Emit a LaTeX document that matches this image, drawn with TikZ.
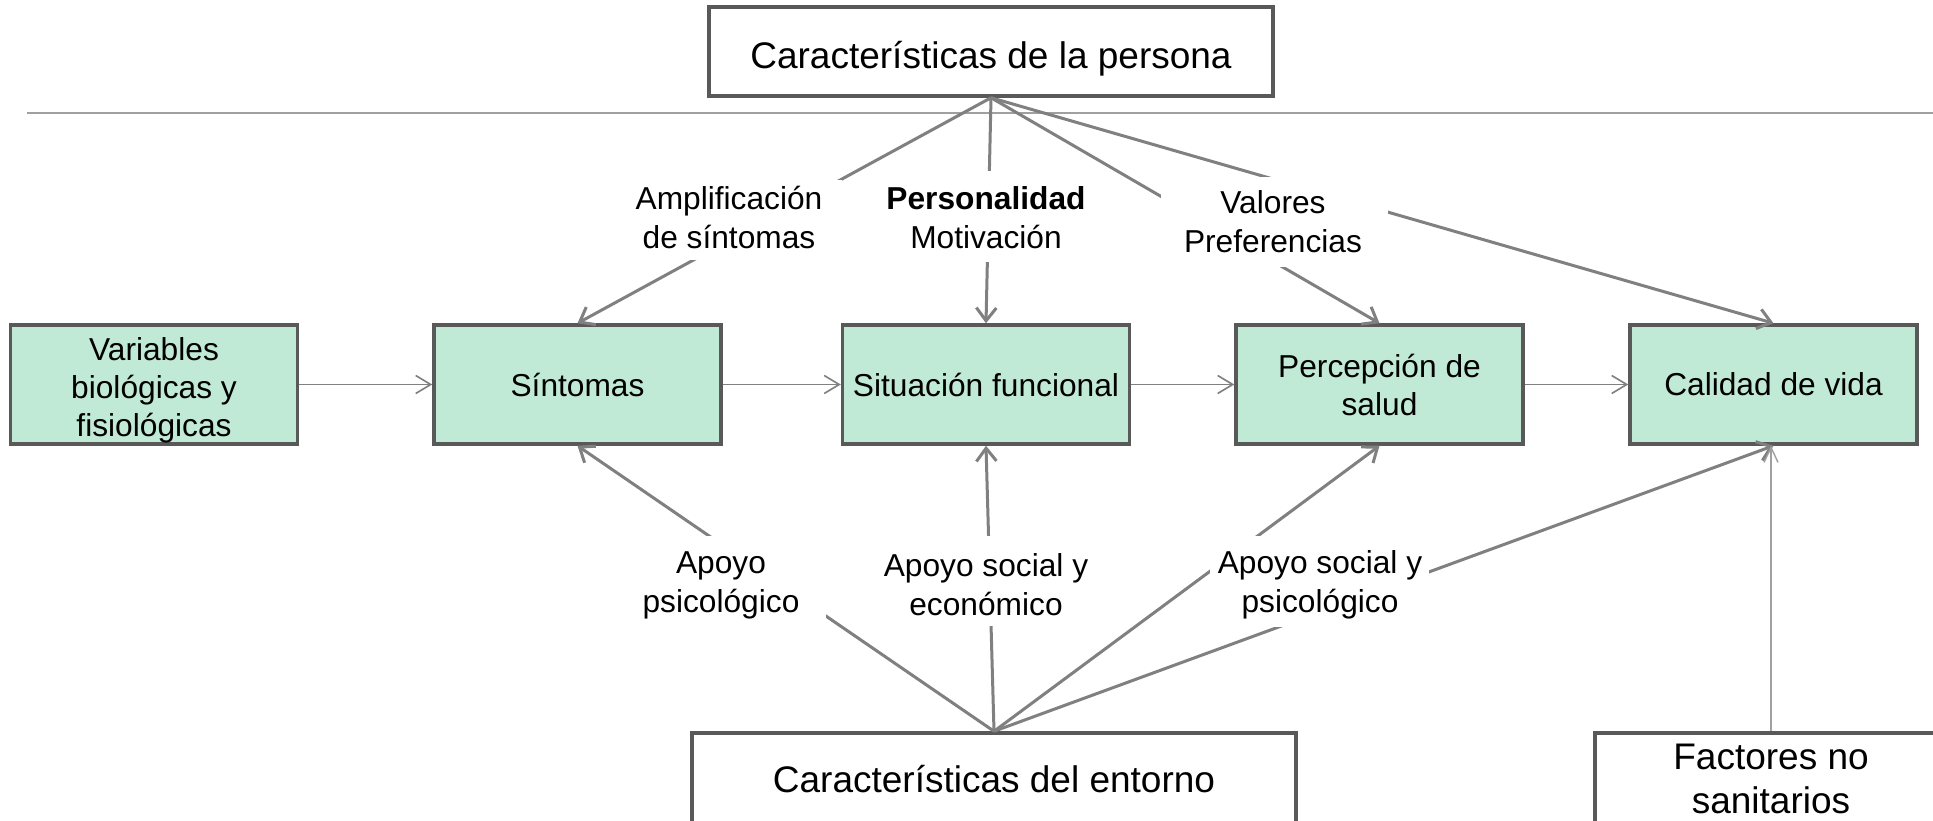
\documentclass[tikz,border=0pt]{standalone}
\usepackage{fontspec}
\setmainfont{Liberation Sans}
\usetikzlibrary{arrows.meta}
\definecolor{boxgreen}{RGB}{192,233,214}
\definecolor{bordergray}{RGB}{89,89,89}
\definecolor{conngray}{RGB}{128,128,128}
\definecolor{rulegray}{RGB}{160,160,160}
\newcommand{\lowtext}[2]{\raisebox{#1}[\height][\depth]{\begin{tabular}{@{}c@{}}#2\end{tabular}}}
\tikzset{
  titlebox/.style={draw=bordergray, line width=3.5pt, fill=white, minimum height=89pt,
    font=\fontsize{37}{44}\selectfont, align=center, inner sep=0pt},
  greenbox/.style={draw=bordergray, line width=3.5pt, fill=boxgreen, minimum width=287pt,
    minimum height=119pt, font=\fontsize{31.7}{38}\selectfont, align=center, inner sep=0pt},
  mask/.style={fill=white, inner sep=0pt},
  lbl/.style={font=\fontsize{31.7}{39}\selectfont, align=center, inner sep=0pt},
  thickconn/.style={draw=conngray, line width=3pt, -{Straight Barb[length=13pt,width=20pt]}},
  thinconn/.style={draw=conngray, line width=1.6pt, -{Straight Barb[length=15pt,width=18pt]}},
  faintconn/.style={draw=rulegray, line width=1.4pt, -{Straight Barb[length=15pt,width=14pt]}},
}
\begin{document}
\begin{tikzpicture}[x=1pt,y=-1pt]
\useasboundingbox (0,0) rectangle (1933,821);
\clip (0,0) rectangle (1933,821);
\fill[white] (0,0) rectangle (1933,821);
% separator rule
\coordinate (ruleL) at (27,113);
\coordinate (ruleR) at (1933,113);
\draw[rulegray, line width=1.5pt] (ruleL) -- (ruleR);
% boxes
\node[titlebox, minimum width=564pt] (top) at (991,51.5) {\raisebox{-7pt}[\height][\depth]{Características de la persona}};
\node[greenbox] (var) at (154,384.5) {\lowtext{-6pt}{Variables\\biológicas y\\fisiológicas}};
\node[greenbox] (sin) at (577.5,384.5) {Síntomas};
\node[greenbox] (sit) at (986,384.5) {Situación funcional};
\node[greenbox] (per) at (1379.5,384.5) {Percepción de\\salud};
\node[greenbox] (cal) at (1773.5,384.5) {Calidad de vida};
\node[titlebox, minimum width=604pt, minimum height=92pt] (bot) at (994,779) {Características del entorno};
\node[titlebox, minimum width=352pt, minimum height=92pt] (fac) at (1771,779) {Factores no\\sanitarios};
% horizontal chain
\draw[thinconn] (var) -- (sin);
\draw[thinconn] (sin) -- (sit);
\draw[thinconn] (sit) -- (per);
\draw[thinconn] (per) -- (cal);
% from person characteristics
\draw[thickconn] (top.south) -- (sin.north);
\draw[thickconn] (top.south) -- (sit.north);
\draw[thickconn] (top.south) -- (per.north);
\draw[thickconn] (top.south) -- (cal.north);
% from environment characteristics
\draw[thickconn] (bot.north) -- (sin.south);
\draw[thickconn] (bot.north) -- (sit.south);
\draw[thickconn] (bot.north) -- (per.south);
\draw[thickconn] (bot.north) -- (cal.south);
% non-health factors
\draw[faintconn] (fac.north) -- (fac.north |- cal.south);
% white backgrounds of the labels
\node[mask, minimum width=226pt, minimum height=80pt] (m1) at (729,220) {};
\node[mask, minimum width=200pt, minimum height=91pt] (m2) at (986,216.5) {};
\node[mask, minimum width=227pt, minimum height=90pt] (m3) at (1274.5,222) {};
\node[mask, minimum width=212pt, minimum height=90pt] (m4) at (720,581) {};
\node[mask, minimum width=200pt, minimum height=90pt] (m5) at (986,581) {};
\node[mask, minimum width=219pt, minimum height=91pt] (m6) at (1319.5,581.5) {};
% labels
\node[lbl] (l1) at (729,217) {Amplificación\\de síntomas};
\node[lbl] (l2) at (986,218) {\textbf{Personalidad}\\Motivación};
\node[lbl] (l3) at (1273,222) {Valores\\Preferencias};
\node[lbl] (l4) at (721,585) {Apoyo\\psicológico};
\node[lbl] (l5) at (986,585) {Apoyo social y\\económico};
\node[lbl] (l6) at (1320,585) {Apoyo social y\\psicológico};
\end{tikzpicture}
\end{document}
